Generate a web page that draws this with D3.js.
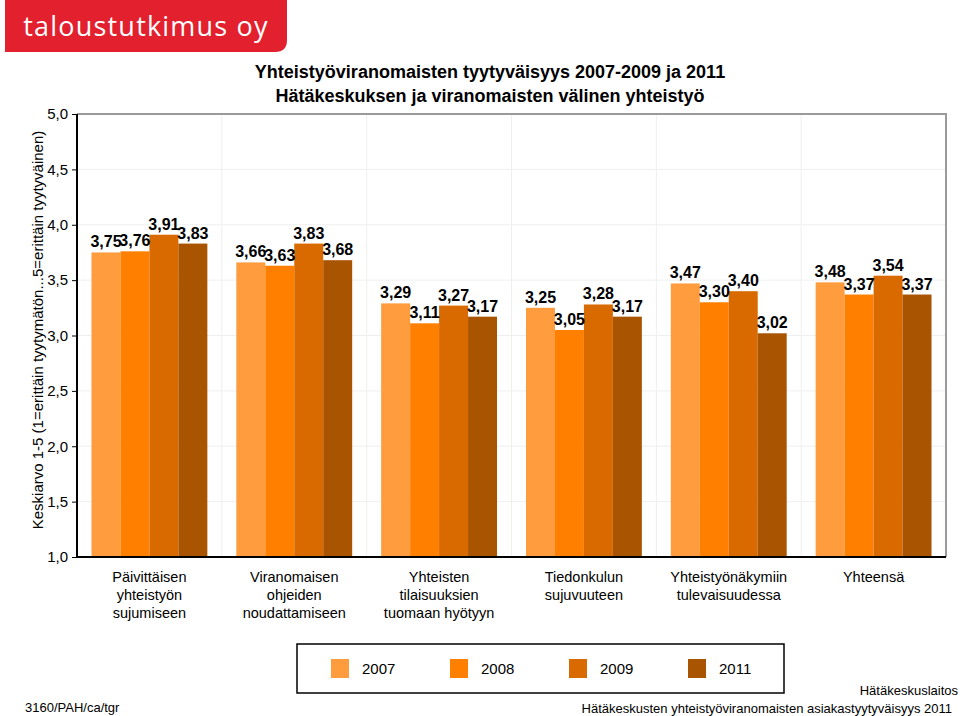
<!DOCTYPE html>
<html><head><meta charset="utf-8">
<script src="https://cdn.jsdelivr.net/npm/d3@7"></script>
<style>body{margin:0;background:#fff}svg{display:block}text{font-family:"Liberation Sans",Arial,sans-serif}</style>
</head><body>
<svg id="c" width="960" height="716"></svg>
<script>
const categories = [
  ["Päivittäisen","yhteistyön","sujumiseen"],
  ["Viranomaisen","ohjeiden","noudattamiseen"],
  ["Yhteisten","tilaisuuksien","tuomaan hyötyyn"],
  ["Tiedonkulun","sujuvuuteen"],
  ["Yhteistyönäkymiin","tulevaisuudessa"],
  ["Yhteensä"]
];
const seriesNames = ["2007","2008","2009","2011"];
const s2007 = [3.75,3.66,3.29,3.25,3.47,3.48];
const s2008 = [3.76,3.63,3.11,3.05,3.30,3.37];
const s2009 = [3.91,3.83,3.27,3.28,3.40,3.54];
const s2011 = [3.83,3.68,3.17,3.17,3.02,3.37];
const yTicks = [1.0,1.5,2.0,2.5,3.0,3.5,4.0,4.5,5.0];
const colors = ["#FF9C3E","#FF7F00","#D96A00","#A85400"];
const series = [s2007,s2008,s2009,s2011];

const svg = d3.select("#c");
const L=77,R=946,T=114,B=557;
const x0 = d3.scaleBand().domain(d3.range(categories.length)).range([L,R]).paddingInner(0.2).paddingOuter(0.1);
const x1 = d3.scaleBand().domain(d3.range(seriesNames.length)).range([0,x0.bandwidth()]);
const y = d3.scaleLinear().domain([1,5]).range([B,T]);
const fmt = v => d3.format(".2f")(v).replace(".",",");
const fmt1 = v => d3.format(".1f")(v).replace(".",",");

// logo
const logo = svg.append("g");
logo.append("path").attr("d","M5,0 H287 V40 Q287,52 275,52 H5 Z").attr("fill","#E2202E");
logo.append("text").attr("x",146).attr("y",36).attr("text-anchor","middle")
  .attr("fill","#fff").style("font-family","'Open Sans',sans-serif").style("font-weight","500")
  .style("letter-spacing","1.2px").style("font-size","27px").text("taloustutkimus oy");

// title
svg.append("text").attr("x",490).attr("y",78).attr("text-anchor","middle")
  .style("font-weight","bold").style("font-size","18px").text("Yhteistyöviranomaisten tyytyväisyys 2007-2009 ja 2011");
svg.append("text").attr("x",490).attr("y",102).attr("text-anchor","middle")
  .style("font-weight","bold").style("font-size","18px").text("Hätäkeskuksen ja viranomaisten välinen yhteistyö");

// gridlines
const step = (R-L)/categories.length;
svg.append("g").selectAll("line").data(yTicks.slice(1,-1)).join("line")
  .attr("x1",L).attr("x2",R).attr("y1",d=>y(d)).attr("y2",d=>y(d)).attr("stroke","#efefef");
svg.append("g").selectAll("line").data(d3.range(1,categories.length)).join("line")
  .attr("x1",d=>L+d*step).attr("x2",d=>L+d*step).attr("y1",T).attr("y2",B).attr("stroke","#efefef");
// plot border top/right
svg.append("path").attr("d",`M${L},${T}H${R}V${B}`).attr("fill","none").attr("stroke","#9a9a9a").attr("stroke-width",2);

// bars
const g = svg.append("g");
categories.forEach((c,i)=>{
  series.forEach((s,j)=>{
    const bx = x0(i)+x1(j);
    g.append("rect").attr("x",bx).attr("y",y(s[i])).attr("width",x1.bandwidth()).attr("height",y(1)-y(s[i])).attr("fill",colors[j]);
  });
});
categories.forEach((c,i)=>{
  series.forEach((s,j)=>{
    const bx = x0(i)+x1(j)+x1.bandwidth()/2;
    g.append("text").attr("x",bx).attr("y",y(s[i])-5).attr("text-anchor","middle")
      .style("font-weight","bold").style("font-size","16px").text(fmt(s[i]));
  });
});

// axes
const ya = d3.axisLeft(y).tickValues(yTicks).tickSize(5).tickFormat(fmt1);
const ag = svg.append("g").attr("transform",`translate(${L},0)`).call(ya);
ag.select(".domain").remove();
ag.selectAll("line").attr("stroke","#000");
ag.selectAll("text").style("font-size","15px").attr("x",-9).attr("fill","#000");
svg.append("line").attr("x1",L).attr("x2",L).attr("y1",T).attr("y2",B).attr("stroke","#000").attr("stroke-width",2);
svg.append("line").attr("x1",L-1).attr("x2",R).attr("y1",B).attr("y2",B).attr("stroke","#000").attr("stroke-width",2);

// category labels
categories.forEach((c,i)=>{
  const t = svg.append("text").attr("text-anchor","middle").style("font-size","14.5px");
  c.forEach((line,k)=>t.append("tspan").attr("x",L+step*(i+0.5)).attr("y",582+k*18).text(line));
});

// y label
svg.append("text").attr("transform","translate(43,330) rotate(-90)").attr("text-anchor","middle")
  .style("font-size","15px").text("Keskiarvo 1-5 (1=erittäin tyytymätön...5=erittäin tyytyväinen)");

// legend
svg.append("rect").attr("x",297).attr("y",644).attr("width",487).attr("height",49).attr("fill","none").attr("stroke","#000").attr("stroke-width",1.5);
seriesNames.forEach((n,j)=>{
  const lx = 331 + j*119;
  svg.append("rect").attr("x",lx).attr("y",659).attr("width",18).attr("height",19).attr("fill",colors[j]);
  svg.append("text").attr("x",lx+31).attr("y",674).style("font-size","15px").text(n);
});

// footer
svg.append("text").attr("x",25).attr("y",712).style("font-size","13px").text("3160/PAH/ca/tgr");
svg.append("text").attr("x",958).attr("y",695).attr("text-anchor","end").style("font-size","13px").text("Hätäkeskuslaitos");
svg.append("text").attr("x",952).attr("y",713).attr("text-anchor","end").style("font-size","13px").text("Hätäkeskusten yhteistyöviranomaisten asiakastyytyväisyys 2011");
</script>
</body></html>
